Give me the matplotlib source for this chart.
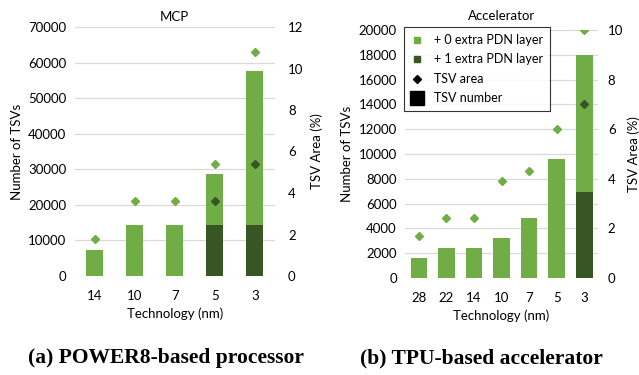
import matplotlib
matplotlib.use('Agg')
import matplotlib.pyplot as plt
from matplotlib.lines import Line2D

plt.rcParams['font.family'] = ['Lato', 'DejaVu Sans']

# datos MCP
tech_mcp = ['14', '10', '7', '5', '3']
tsv_mcp_0 = [7200, 14400, 14400, 28800, 57600]
tsv_mcp_1 = [0, 0, 0, 14400, 14400]
area_mcp_0 = [1.8, 3.6, 3.6, 5.4, 10.8]
area_mcp_1 = [None, None, None, 3.6, 5.4]

# datos Accelerator
tech_acc = ['28', '22', '14', '10', '7', '5', '3']
tsv_acc_0 = [1600, 2400, 2400, 3200, 4800, 9600, 18000]
tsv_acc_1 = [0, 0, 0, 0, 0, 0, 6900]
area_acc_0 = [1.7, 2.4, 2.4, 3.9, 4.3, 6.0, 10.0]
area_acc_1 = [None, None, None, None, None, None, 7.0]

verde = '#70AD47'
oscuro = '#375623'
gris = '#D9D9D9'
fs = 9.5


def dibujar(ax, tech, v0, v1, a0, a1, ancho, ymax, ystep, amax, titulo,
            tpad, rpad, rlabelpad):
    x = list(range(len(tech)))
    ax.bar(x, v0, width=ancho, color=verde, zorder=2)
    ax.bar(x, v1, width=ancho, color=oscuro, zorder=3)
    ax.set_xlim(-0.5, len(tech) - 0.5)
    ax.set_ylim(0, ymax)
    ax.set_yticks(range(0, ymax + 1, ystep))
    ax.grid(axis='y', color=gris, linewidth=0.9, zorder=0)
    ax.set_axisbelow(True)
    ax.set_xticks(x)
    ax.set_xticklabels(tech)
    for s in ax.spines.values():
        s.set_visible(False)
    ax.tick_params(length=0, labelsize=fs, pad=6)
    ax.tick_params(axis='x', pad=10)
    ax.set_title(titulo, fontsize=fs, pad=tpad)
    ax.set_xlabel('Technology (nm)', fontsize=fs, labelpad=4)
    ax.set_ylabel('Number of TSVs', fontsize=fs)

    ax2 = ax.twinx()
    ax2.set_ylim(0, amax)
    ax2.set_yticks(range(0, amax + 1, 2))
    for s in ax2.spines.values():
        s.set_visible(False)
    ax2.tick_params(length=0, labelsize=fs, pad=rpad)
    ax2.set_ylabel('TSV Area (%)', fontsize=fs, labelpad=rlabelpad)
    xs1 = [i for i in x if a1[i] is not None]
    ax2.plot(x, a0, 'D', color=verde, markersize=4.5, linestyle='none', zorder=4)
    ax2.plot(xs1, [a1[i] for i in xs1], 'D', color=oscuro, markersize=4.5,
             linestyle='none', zorder=4)
    return ax2


fig = plt.figure(figsize=(6.39, 3.75), dpi=100)
ax1 = fig.add_axes([0.117, 0.264, 0.313, 0.664])
ax2 = fig.add_axes([0.634, 0.259, 0.302, 0.661])

dibujar(ax1, tech_mcp, tsv_mcp_0, tsv_mcp_1, area_mcp_0, area_mcp_1, 0.43,
        70000, 10000, 12, 'MCP', 4, 9.5, 5)
t2 = dibujar(ax2, tech_acc, tsv_acc_0, tsv_acc_1, area_acc_0, area_acc_1, 0.6,
             20000, 2000, 10, 'Accelerator', 7, 7, 3)

handles = [
    Line2D([], [], marker='s', color=verde, linestyle='none', markersize=5),
    Line2D([], [], marker='s', color=oscuro, linestyle='none', markersize=5),
    Line2D([], [], marker='D', color='black', linestyle='none', markersize=4.5),
    Line2D([], [], marker='s', color='black', linestyle='none', markersize=10),
]
etiquetas = ['+ 0 extra PDN layer', '+ 1 extra PDN layer', 'TSV area', 'TSV number']
leg = t2.legend(handles, etiquetas, loc='upper left', bbox_to_anchor=(-0.005, 1.012),
                fontsize=9, frameon=True, fancybox=False, edgecolor='black',
                handlelength=1.0, handletextpad=0.8, labelspacing=0.6,
                borderpad=0.55, borderaxespad=0)
leg.get_frame().set_linewidth(0.8)

fig.text(0.26, 0.045, '(a) POWER8-based processor', ha='center', va='center',
         family='Liberation Serif', fontweight='bold', fontsize=15.5)
fig.text(0.753, 0.045, '(b) TPU-based accelerator', ha='center', va='center',
         family='Liberation Serif', fontweight='bold', fontsize=15.5)

plt.savefig('out.png', dpi=100)
